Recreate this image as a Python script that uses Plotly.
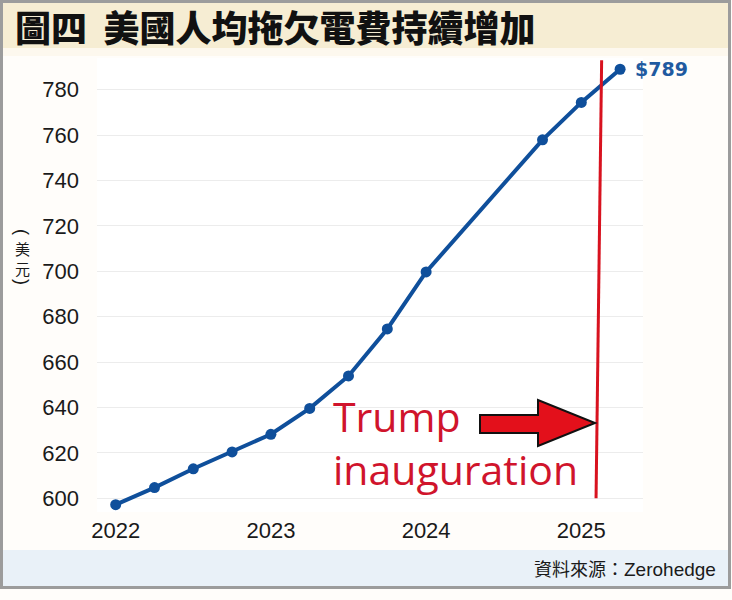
import plotly.graph_objects as go

# ---------------- data ----------------
quarters = [2022.00, 2022.25, 2022.50, 2022.75, 2023.00, 2023.25,
            2023.50, 2023.75, 2024.00, 2024.75, 2025.00, 2025.25]
debt_per_capita = [597.2, 604.7, 613.0, 620.4, 628.2, 639.6,
                   653.9, 674.6, 699.7, 757.9, 774.4, 789.0]
year_ticks = [2022, 2023, 2024, 2025]
year_labels = ["2022", "2023", "2024", "2025"]
y_ticks = list(range(600, 781, 20))
last_label = "$789"
title_text = "圖四  美國人均拖欠電費持續增加"
source_cjk = "資料來源："
source_name = "Zerohedge"
ytitle_text = "美<br>元"
inauguration_x = [2025.095, 2025.131]
inauguration_y = [600.0, 793.0]

# ---------------- layout geometry ----------------
W, H = 732, 600
L, R, T, B = 97, 643, 58, 512
XR = [2021.8795, 2025.3975]
YR = [593.96, 793.96]

def px2x(px):
    return XR[0] + (px - L) / (R - L) * (XR[1] - XR[0])

def py2y(py):
    return YR[0] + (B - py) / (B - T) * (YR[1] - YR[0])

def pxp(px):
    return (px - L) / (R - L)

def pyp(py):
    return (B - py) / (B - T)

BLUE = "#0f4f9b"
RED = "#d8121f"

fig = go.Figure()
fig.add_trace(go.Scatter(
    x=quarters, y=debt_per_capita, mode="lines+markers",
    line=dict(color=BLUE, width=4),
    marker=dict(color=BLUE, size=11),
    hoverinfo="skip", showlegend=False,
))

shapes = []
shapes.append(dict(type="rect", xref="paper", yref="paper",
                   x0=pxp(3), x1=pxp(729), y0=pyp(48), y1=pyp(3),
                   fillcolor="#f6edd3", line=dict(width=0), layer="below"))
shapes.append(dict(type="rect", xref="paper", yref="paper",
                   x0=pxp(3), x1=pxp(729), y0=pyp(56), y1=pyp(48),
                   fillcolor="#fdf8ee", line=dict(width=0), layer="below"))
shapes.append(dict(type="rect", xref="paper", yref="paper",
                   x0=pxp(3), x1=pxp(729), y0=pyp(587), y1=pyp(550),
                   fillcolor="#e9f1f8", line=dict(width=0), layer="below"))
shapes.append(dict(type="rect", xref="paper", yref="paper",
                   x0=pxp(1.5), x1=pxp(729.5), y0=pyp(587.5), y1=pyp(1.5),
                   fillcolor="rgba(0,0,0,0)", line=dict(color="#9c9c9c", width=3)))
shapes.append(dict(type="line", xref="x", yref="y",
                   x0=inauguration_x[0], x1=inauguration_x[1],
                   y0=inauguration_y[0], y1=inauguration_y[1],
                   line=dict(color=RED, width=3)))
arrow_px = [(480, 415), (538, 415), (538, 400), (595, 423),
            (538, 446), (538, 433), (480, 433)]
path = "M " + " L ".join(f"{px2x(a)},{py2y(b)}" for a, b in arrow_px) + " Z"
shapes.append(dict(type="path", xref="x", yref="y", path=path,
                   fillcolor="#e3101b", line=dict(color="#111111", width=2)))

annotations = []
annotations.append(dict(xref="paper", yref="paper", x=pxp(13), y=pyp(26),
                        xanchor="left", yanchor="middle", showarrow=False,
                        text=title_text,
                        font=dict(family="Noto Sans CJK TC", size=36, weight=900, color="#111111")))
annotations.append(dict(xref="paper", yref="paper", x=pxp(718), y=pyp(568),
                        xanchor="right", yanchor="middle", showarrow=False,
                        text="<span style='font-family:Noto Sans CJK TC;font-size:18px'>" + source_cjk + "</span>" + source_name,
                        font=dict(family="Liberation Sans", size=19, color="#1a1a1a")))
# vertical y-axis title: rotated brackets + stacked characters
annotations.append(dict(xref="paper", yref="paper", x=pxp(22), y=pyp(232),
                        xanchor="center", yanchor="middle", showarrow=False,
                        text="(", textangle=90,
                        font=dict(family="Liberation Sans", size=18, color="#1a1a1a")))
annotations.append(dict(xref="paper", yref="paper", x=pxp(22), y=pyp(258),
                        xanchor="center", yanchor="middle", showarrow=False,
                        text=ytitle_text,
                        font=dict(family="Noto Sans CJK TC", size=15, color="#1a1a1a")))
annotations.append(dict(xref="paper", yref="paper", x=pxp(22), y=pyp(282),
                        xanchor="center", yanchor="middle", showarrow=False,
                        text=")", textangle=90,
                        font=dict(family="Liberation Sans", size=18, color="#1a1a1a")))
annotations.append(dict(xref="x", yref="y", x=quarters[-1], y=debt_per_capita[-1],
                        xanchor="left", yanchor="middle", xshift=13, showarrow=False,
                        text="<b>" + last_label + "</b>",
                        font=dict(family="DejaVu Sans", size=19, color="#1f5aa0")))
annotations.append(dict(xref="paper", yref="paper", x=pxp(331), y=pyp(416),
                        xanchor="left", yanchor="middle", showarrow=False,
                        text="Trump",
                        font=dict(family="Open Sans", size=41, color="#d0142c")))
annotations.append(dict(xref="paper", yref="paper", x=pxp(331), y=pyp(469),
                        xanchor="left", yanchor="middle", showarrow=False,
                        text="inauguration",
                        font=dict(family="Open Sans", size=41, color="#d0142c")))

tickfont = dict(family="Liberation Sans", size=22, color="#1a1a1a")

fig.update_layout(
    width=W, height=H,
    margin=dict(l=L, r=W - R, t=T, b=H - B, pad=0),
    paper_bgcolor="#fffdfa",
    plot_bgcolor="#ffffff",
    shapes=shapes,
    annotations=annotations,
    xaxis=dict(range=XR, tickvals=year_ticks, ticktext=year_labels,
               showgrid=False, zeroline=False, showline=False, ticks="",
               tickfont=tickfont, ticklabelstandoff=3, fixedrange=True),
    yaxis=dict(range=YR, tickvals=y_ticks, showgrid=True, gridcolor="#ececec",
               gridwidth=1, zeroline=False, showline=False, ticks="",
               tickfont=tickfont, ticklabelstandoff=17, fixedrange=True),
)

fig.write_html("out.html", config={"displayModeBar": False})

# remove the browser's default page margin so the figure sits at the top-left corner
with open("out.html", "r", encoding="utf-8") as f:
    html = f.read()
html = html.replace("<head>", "<head><style>html,body{margin:0;padding:0;}</style>", 1)
with open("out.html", "w", encoding="utf-8") as f:
    f.write(html)
